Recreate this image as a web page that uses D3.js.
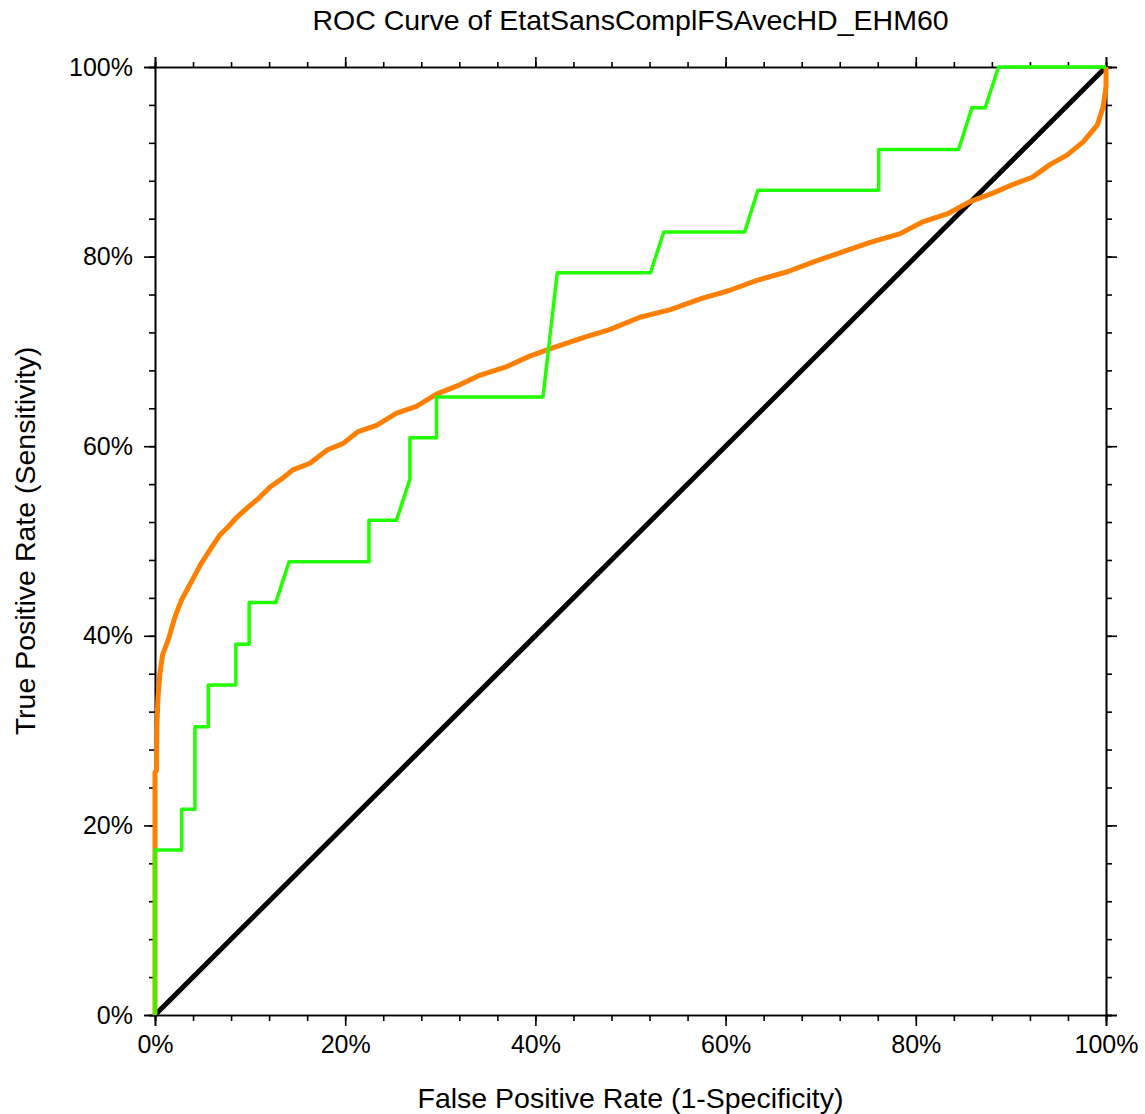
<!DOCTYPE html>
<head>
  <meta charset="utf-8">
  <script src="https://d3js.org/d3.v7.min.js"></script>
  <style>
    body { margin: 0; background: #fff; }
    svg text { font-family: "Liberation Sans", Arial, sans-serif; fill: #000; }
    .axis path, .axis line { stroke: #000; stroke-width: 1.6px; }
    .curve { fill: none; stroke-linejoin: round; }
  </style>
</head>
<body>
  <svg id="chart"></svg>
  <script>

    var title = "ROC Curve of EtatSansComplFSAvecHD_EHM60";
    var xLabel = "False Positive Rate (1-Specificity)";
    var yLabel = "True Positive Rate (Sensitivity)";

    var majorTicks = [0, 0.2, 0.4, 0.6, 0.8, 1];
    var minorTicks = d3.range(0, 1.0001, 0.04);

    // chance line
    var diagX = [0, 1];
    var diagY = [0, 1];

    // step ROC (green)
    var greenX = [0, 0, 0.028, 0.028, 0.042, 0.042, 0.056, 0.056, 0.085, 0.085, 0.099, 0.099,
      0.127, 0.141, 0.225, 0.225, 0.254, 0.268, 0.268, 0.296, 0.296, 0.408, 0.423, 0.521,
      0.535, 0.620, 0.634, 0.761, 0.761, 0.845, 0.859, 0.873, 0.887, 1];
    var greenY = [0, 0.174, 0.174, 0.217, 0.217, 0.304, 0.304, 0.348, 0.348, 0.391, 0.391, 0.435,
      0.435, 0.478, 0.478, 0.522, 0.522, 0.565, 0.609, 0.609, 0.652, 0.652, 0.783, 0.783,
      0.826, 0.826, 0.870, 0.870, 0.913, 0.913, 0.957, 0.957, 1, 1];

    // smooth ROC (orange)
    var orangeX = [0, 0, 0, 0.0016, 0.002, 0.003, 0.005, 0.008, 0.014, 0.021, 0.028, 0.035,
      0.042, 0.049, 0.060, 0.068, 0.077, 0.086, 0.097, 0.109, 0.121, 0.134, 0.145, 0.163,
      0.181, 0.198, 0.213, 0.233, 0.254, 0.275, 0.296, 0.321, 0.342, 0.370, 0.394, 0.419,
      0.452, 0.478, 0.510, 0.542, 0.575, 0.603, 0.633, 0.665, 0.694, 0.723, 0.752, 0.783,
      0.808, 0.833, 0.857, 0.881, 0.902, 0.923, 0.941, 0.959, 0.976, 0.991, 0.997, 1, 1];
    var orangeY = [0, 0.164, 0.256, 0.258, 0.306, 0.332, 0.359, 0.380, 0.396, 0.420, 0.438, 0.451,
      0.464, 0.477, 0.494, 0.506, 0.515, 0.525, 0.535, 0.545, 0.557, 0.566, 0.575, 0.582,
      0.596, 0.603, 0.615, 0.622, 0.635, 0.642, 0.655, 0.665, 0.675, 0.684, 0.695, 0.704,
      0.715, 0.723, 0.736, 0.744, 0.756, 0.764, 0.775, 0.784, 0.795, 0.805, 0.815, 0.824,
      0.837, 0.845, 0.858, 0.867, 0.876, 0.884, 0.897, 0.907, 0.921, 0.939, 0.958, 0.979, 1];

    var width = 1145, height = 1114;
    var margin = {left: 155, right: 39, top: 67, bottom: 99};

    var svg = d3.select("#chart")
        .attr("width", width)
        .attr("height", height);

    var x = d3.scaleLinear().domain([0, 1]).range([margin.left, width - margin.right]);
    var y = d3.scaleLinear().domain([0, 1]).range([height - margin.bottom, margin.top]);

    var pct = d3.format(".0%");

    function drawAxis(axis, transform, labels) {
      var g = svg.append("g").attr("class", "axis").attr("transform", transform);
      g.call(axis);
      g.selectAll("text").style("font-size", "25px");
      if (!labels) g.selectAll("text").remove();
      return g;
    }

    // minor ticks
    drawAxis(d3.axisBottom(x).tickValues(minorTicks).tickSize(6).tickFormat(""), "translate(0," + y(0) + ")", false);
    drawAxis(d3.axisTop(x).tickValues(minorTicks).tickSize(5).tickFormat(""), "translate(0," + y(1) + ")", false);
    drawAxis(d3.axisLeft(y).tickValues(minorTicks).tickSize(6).tickFormat(""), "translate(" + x(0) + ",0)", false);
    drawAxis(d3.axisRight(y).tickValues(minorTicks).tickSize(6).tickFormat(""), "translate(" + x(1) + ",0)", false);

    // major ticks
    drawAxis(d3.axisBottom(x).tickValues(majorTicks).tickSize(11).tickPadding(9).tickFormat(pct),
      "translate(0," + y(0) + ")", true);
    drawAxis(d3.axisTop(x).tickValues(majorTicks).tickSize(10).tickFormat(""), "translate(0," + y(1) + ")", false);
    drawAxis(d3.axisLeft(y).tickValues(majorTicks).tickSize(11).tickPadding(11).tickFormat(pct),
      "translate(" + x(0) + ",0)", true);
    drawAxis(d3.axisRight(y).tickValues(majorTicks).tickSize(11).tickFormat(""), "translate(" + x(1) + ",0)", false);

    svg.selectAll(".axis .domain").attr("stroke-width", 2);

    var line = d3.line()
        .x(function(d) { return x(d[0]); })
        .y(function(d) { return y(d[1]); });

    svg.append("path")
        .attr("class", "curve")
        .attr("d", line(d3.zip(diagX, diagY)))
        .attr("stroke", "#000")
        .attr("stroke-width", 5);

    svg.append("path")
        .attr("class", "curve")
        .attr("d", line(d3.zip(orangeX, orangeY)))
        .attr("stroke", "#ff8000")
        .attr("stroke-width", 5);

    svg.append("path")
        .attr("class", "curve")
        .attr("d", line(d3.zip(greenX, greenY)))
        .attr("stroke", "#22ff00")
        .attr("stroke-width", 3.5);

    svg.append("text")
        .attr("x", (x(0) + x(1)) / 2)
        .attr("y", 30)
        .attr("text-anchor", "middle")
        .style("font-size", "28.5px")
        .text(title);

    svg.append("text")
        .attr("x", (x(0) + x(1)) / 2)
        .attr("y", 1108)
        .attr("text-anchor", "middle")
        .style("font-size", "28.5px")
        .text(xLabel);

    svg.append("text")
        .attr("transform", "translate(35," + ((y(0) + y(1)) / 2) + ") rotate(-90)")
        .attr("text-anchor", "middle")
        .style("font-size", "28.5px")
        .text(yLabel);

  </script>
</body>
</html>
